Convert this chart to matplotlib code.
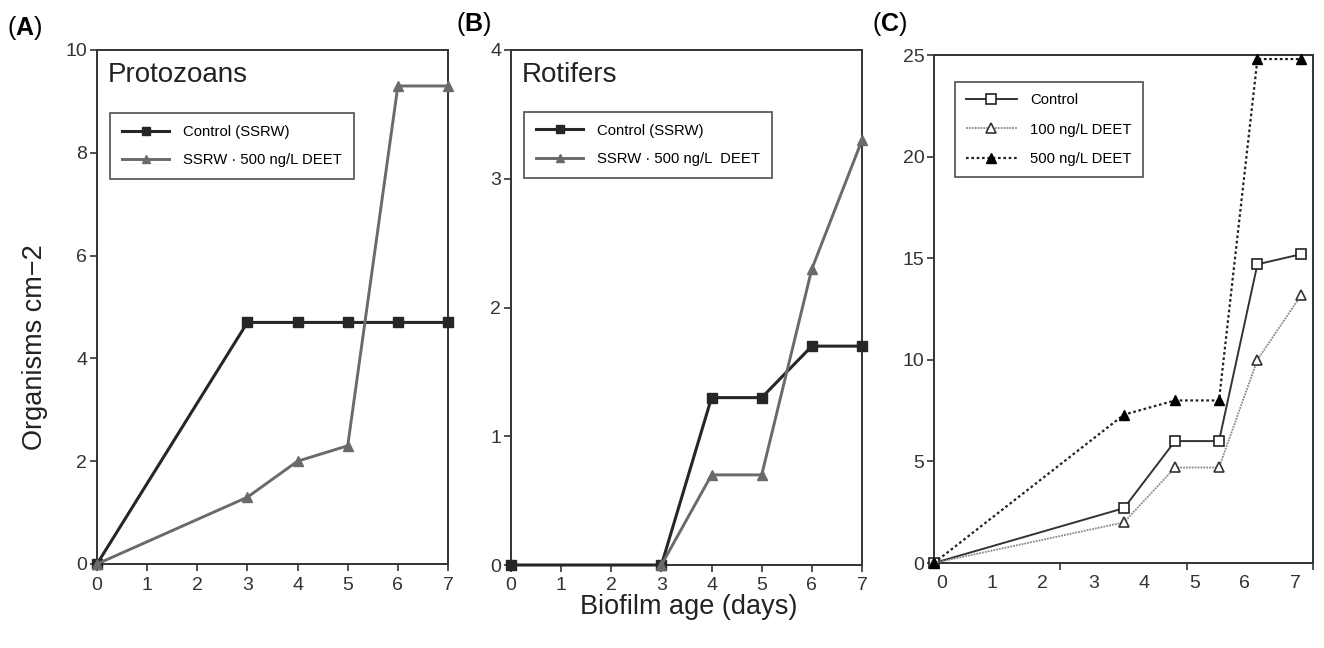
import matplotlib
matplotlib.use("Agg")
import matplotlib.pyplot as plt

plt.rcParams['font.family'] = ['Liberation Sans', 'DejaVu Sans']
plt.rcParams['mathtext.fontset'] = 'custom'
plt.rcParams['mathtext.rm'] = 'Liberation Sans'
plt.rcParams['mathtext.bf'] = 'Liberation Sans:bold'

# ---- data ----
days = [0, 3, 4, 5, 6, 7]
proto_control = [0, 4.7, 4.7, 4.7, 4.7, 4.7]
proto_deet = [0, 1.3, 2.0, 2.3, 9.3, 9.3]

rot_days_control = [0, 3, 4, 5, 6, 7]
rot_control = [0, 0, 1.3, 1.3, 1.7, 1.7]
rot_days_deet = [3, 4, 5, 6, 7]
rot_deet = [0, 0.7, 0.7, 2.3, 3.3]

c_days = [0, 3.76, 4.77, 5.64, 6.40, 7.27]
c_control = [0, 2.7, 6.0, 6.0, 14.7, 15.2]
c_100 = [0, 2.0, 4.7, 4.7, 10.0, 13.2]
c_500 = [0, 7.3, 8.0, 8.0, 24.8, 24.8]
c_xlabels = ['0', '1', '2', '3', '4', '5', '6', '7']

W, H = 1324, 648
fig = plt.figure(figsize=(W / 100, H / 100), dpi=100)

def ax_at(l, r, t, b):
    return fig.add_axes([l / W, 1 - b / H, (r - l) / W, (b - t) / H])

axA = ax_at(97, 448, 50, 564)
axB = ax_at(511, 862, 50, 565)
axC = ax_at(934, 1313, 55, 563)

spine_col = '#333333'
for ax in (axA, axB, axC):
    for s in ax.spines.values():
        s.set_color(spine_col)
        s.set_linewidth(1.4)
    ax.tick_params(direction='out', length=5, width=1.2, color=spine_col,
                   labelsize=14, labelcolor='#333333', pad=2)
    ax.tick_params(axis='x', pad=4)

dark = '#262626'
grey = '#6a6a6a'
leg_fs = 10.7

# ---- Panel A ----
axA.plot(days, proto_control, color=dark, lw=2.2, marker='s', ms=7.5,
         mfc=dark, mec=dark, clip_on=False, zorder=3, label='Control (SSRW)')
axA.plot(days, proto_deet, color=grey, lw=2.1, marker='^', ms=7.5,
         mfc=grey, mec=grey, clip_on=False, zorder=3, label='SSRW · 500 ng/L DEET')
axA.set_xlim(0, 7)
axA.set_ylim(0, 10)
axA.set_xticks(range(0, 8))
axA.set_yticks(range(0, 11, 2))
axA.text(0.031, 0.938, 'Protozoans', transform=axA.transAxes, fontsize=20,
         color='#222222', va='baseline', ha='left')
legA = axA.legend(loc='upper left', bbox_to_anchor=(0.037, 0.877), fontsize=leg_fs,
                  frameon=True, fancybox=False, edgecolor='#222222',
                  handlelength=3.2, borderpad=0.8, labelspacing=0.95,
                  handletextpad=0.9, markerscale=0.85, borderaxespad=0)
legA.get_frame().set_linewidth(1.2)

# ---- Panel B ----
axB.plot(rot_days_control, rot_control, color=dark, lw=2.2, marker='s', ms=7.5,
         mfc=dark, mec=dark, clip_on=False, zorder=3, label='Control (SSRW)')
axB.plot(rot_days_deet, rot_deet, color=grey, lw=2.1, marker='^', ms=7.5,
         mfc=grey, mec=grey, clip_on=False, zorder=3, label='SSRW · 500 ng/L  DEET')
axB.set_xlim(0, 7)
axB.set_ylim(0, 4)
axB.set_xticks(range(0, 8))
axB.set_yticks(range(0, 5))
axB.text(0.031, 0.938, 'Rotifers', transform=axB.transAxes, fontsize=20,
         color='#222222', va='baseline', ha='left')
legB = axB.legend(loc='upper left', bbox_to_anchor=(0.037, 0.88), fontsize=leg_fs,
                  frameon=True, fancybox=False, edgecolor='#222222',
                  handlelength=3.2, borderpad=0.8, labelspacing=0.95,
                  handletextpad=0.9, markerscale=0.85, borderaxespad=0)
legB.get_frame().set_linewidth(1.2)

# ---- Panel C ----
axC.plot(c_days, c_control, color='#333333', lw=1.4, ls='-', marker='s', ms=7.5,
         mfc='white', mec='#222222', mew=1.2, clip_on=False, zorder=3, label='Control')
axC.plot(c_days, c_100, color='#8a8a8a', lw=1.3, ls=(0, (1, 0.6)), marker='^', ms=7.5,
         mfc='white', mec='#333333', mew=1.2, clip_on=False, zorder=3,
         label='100 ng/L DEET')
axC.plot(c_days, c_500, color='#222222', lw=1.6, ls=(0, (1.2, 1.2)), marker='^', ms=7.5,
         mfc='black', mec='black', clip_on=False, zorder=4, label='500 ng/L DEET')
axC.set_xlim(0, 7.5)
axC.set_ylim(0, 25)
axC.set_yticks(range(0, 26, 5))
axC.set_xticks([i + 0.15 for i in range(len(c_xlabels))])
axC.set_xticklabels(c_xlabels)
axC.tick_params(axis='x', which='major', length=0, pad=9)
axC.set_xticks([2.5, 5.0, 7.5], minor=True)
axC.tick_params(axis='x', which='minor', direction='out', length=5, width=1.2,
                color=spine_col)
legC = axC.legend(loc='upper left', bbox_to_anchor=(0.055, 0.947), fontsize=leg_fs,
                  frameon=True, fancybox=False, edgecolor='#222222',
                  handlelength=3.4, borderpad=0.75, labelspacing=1.05,
                  handletextpad=0.9, markerscale=0.9, borderaxespad=0)
legC.get_frame().set_linewidth(1.2)

# ---- figure labels ----
fig.text(7 / W, 1 - 28 / H, r'($\mathbf{A}$)', fontsize=18, va='center', ha='left')
fig.text(456 / W, 1 - 24 / H, r'($\mathbf{B}$)', fontsize=18, va='center', ha='left')
fig.text(872 / W, 1 - 24 / H, r'($\mathbf{C}$)', fontsize=18, va='center', ha='left')

fig.text(35 / W, 1 - 347 / H, 'Organisms cm\u22122', rotation=90, fontsize=19.5,
         va='center', ha='center', color='#222222')
fig.text(689 / W, 1 - 607 / H, 'Biofilm age (days)', fontsize=19.5,
         va='center', ha='center', color='#222222')

fig.savefig('out.png', dpi=100)
